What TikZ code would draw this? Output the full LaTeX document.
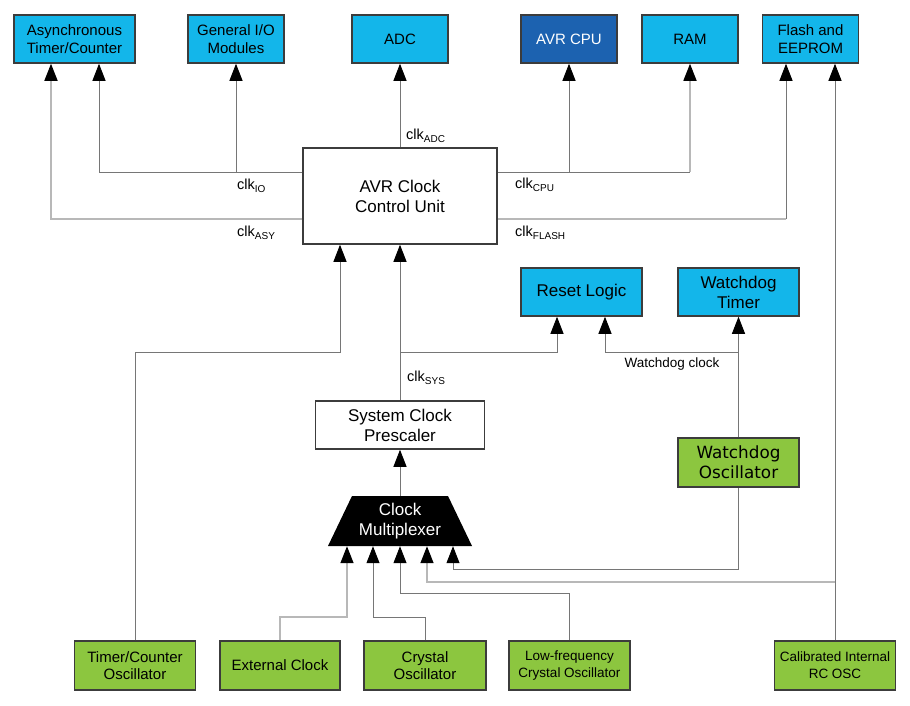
\documentclass[tikz,border=0pt]{standalone}
\usepackage{fontspec}
\setmainfont{Liberation Sans}
\newfontfamily\wdfont{DejaVu Sans}
\usetikzlibrary{arrows.meta}
\definecolor{ltblue}{HTML}{13B6EA}
\definecolor{cpublue}{HTML}{1C62B0}
\definecolor{grn}{HTML}{8CC63F}
\definecolor{bord}{HTML}{3C3C3C}
\definecolor{dkline}{HTML}{767676}
\definecolor{ltline}{HTML}{B8B8B8}
\newcommand{\clk}[1]{clk\raisebox{-2.6pt}{\fontsize{10}{10}\selectfont #1}}
\begin{document}
\begin{tikzpicture}[x=1pt,y=-1pt,
  box/.style={draw=bord,line width=1.5pt,minimum height=48pt,align=center,inner sep=0pt,font=\fontsize{15}{17.7}\selectfont},
  bluebox/.style={box,fill=ltblue},
  grnbox/.style={box,fill=grn},
  whtbox/.style={box,fill=white},
  big/.style={font=\fontsize{17}{20}\selectfont},
  small/.style={font=\fontsize{13.5}{16.7}\selectfont},
  wA/.style={minimum width=121pt},
  wB/.style={minimum width=96pt},
  dk/.style={draw=dkline,line width=0.9pt},
  lt/.style={draw=ltline,line width=1.5pt},
  arr/.style={-{Triangle[length=17pt,width=13pt,color=black]}},
  lbl/.style={font=\fontsize{14.5}{17}\selectfont,inner sep=0pt,anchor=west}]
\useasboundingbox (0,0) rectangle (910,705);
\fill[white] (0,0) rectangle (910,705);

% top row
\node[bluebox,wA] (async) at (74.5,39) {Asynchronous\\Timer/Counter};
\node[bluebox,wB] (gio) at (236,39) {General I/O\\Modules};
\node[bluebox,wB] (adc) at (400,39) {ADC};
\node[box,wB,fill=cpublue,text=white] (cpu) at (569,39) {AVR CPU};
\node[bluebox,wB] (ram) at (690,39) {RAM};
\node[bluebox,wB] (flash) at (810.5,39) {Flash and\\EEPROM};

% control unit
\node[whtbox,big,minimum width=194pt,minimum height=96pt] (ccu) at (400,196) {AVR Clock\\Control Unit};

% middle
\node[bluebox,big,wA] (reset) at (581.5,292) {Reset Logic};
\node[bluebox,big,wA] (wdt) at (738.5,292) {Watchdog\\Timer};
\node[whtbox,big,minimum width=169pt] (presc) at (400,425) {System Clock\\Prescaler};
\node[grnbox,wA,minimum height=49pt,font=\wdfont\fontsize{16.8}{20}\selectfont] (wdo) at (738.5,462.5) {Watchdog\\Oscillator};

% multiplexer
\fill[black] (352,496) -- (448,496) -- (472,546) -- (328,546) -- cycle;
\node[big,text=white,align=center,inner sep=0pt,minimum width=96pt,minimum height=50pt] (mux) at (400,521) {Clock\\Multiplexer};

% bottom row
\node[grnbox,wA,minimum height=49pt] (tco) at (135,665.5) {Timer/Counter\\Oscillator};
\node[grnbox,minimum width=120pt,minimum height=49pt] (ext) at (280,665.5) {External Clock};
\node[grnbox,minimum width=122pt,minimum height=49pt] (xtal) at (425,665.5) {Crystal\\Oscillator};
\node[grnbox,small,wA,minimum height=49pt] (lfx) at (569.5,665.5) {Low-frequency\\Crystal Oscillator};
\node[grnbox,small,wA,minimum height=49pt] (rc) at (835,665.5) {Calibrated Internal\\RC OSC};

% outputs of control unit
\draw[lt,arr] (ccu.west |- 0,219) -| (async.south -| 51,0);
\draw[dk,arr] (ccu.west |- 0,172) -| (async.south -| 99,0);
\draw[dk,arr] (gio.south |- 0,172) -- (gio.south);
\draw[dk,arr] (ccu.north) -- (adc.south);
\draw[dk] (ccu.east |- 0,172) -- (ram.south |- 0,172);
\draw[lt,arr] (ram.south |- 0,172) -- (ram.south);
\draw[dk,arr] (cpu.south |- 0,172) -- (cpu.south);
\draw[lt] (ccu.east |- 0,219) -- (786,219);
\draw[dk,arr] (786,219) -- (flash.south -| 786,0);
\draw[dk,arr] (rc.north) -- (flash.south -| rc.north);

% inputs of control unit
\draw[dk,arr] (tco.north) |- (340,352) -- (ccu.south -| 340,0);
\draw[dk,arr] (presc.north) -- (ccu.south);
\draw[dk,arr] (presc.north |- 0,352) -| (reset.south -| 557,0);
\draw[dk,arr] (wdo.north) -- (wdt.south);
\draw[dk,arr] (wdo.north |- 0,352) -| (reset.south -| 605,0);
\draw[dk,arr] (mux.north) -- (presc.south);

% inputs of multiplexer
\draw[lt,arr] (ext.north) |- (347,617) -- (mux.south -| 347,0);
\draw[dk,arr] (xtal.north) |- (373,617) -- (mux.south -| 373,0);
\draw[dk,arr] (lfx.north) |- (400,593) -- (mux.south);
\draw[lt,arr] (rc.north |- 0,582) -| (mux.south -| 427,0);
\draw[dk,arr] (wdo.south) |- (453,569) -- (mux.south -| 453,0);

% labels
\node[lbl] (lADC) at (406,136) {\clk{ADC}};
\node[lbl] (lIO) at (237,186) {\clk{IO}};
\node[lbl] (lASY) at (237,233) {\clk{ASY}};
\node[lbl] (lCPU) at (515,185) {\clk{CPU}};
\node[lbl] (lFLASH) at (515,233) {\clk{FLASH}};
\node[lbl] (lSYS) at (407,378) {\clk{SYS}};
\node[font=\fontsize{13.5}{16}\selectfont,inner sep=0pt] (lwd) at (672,364) {Watchdog clock};
\end{tikzpicture}
\end{document}
